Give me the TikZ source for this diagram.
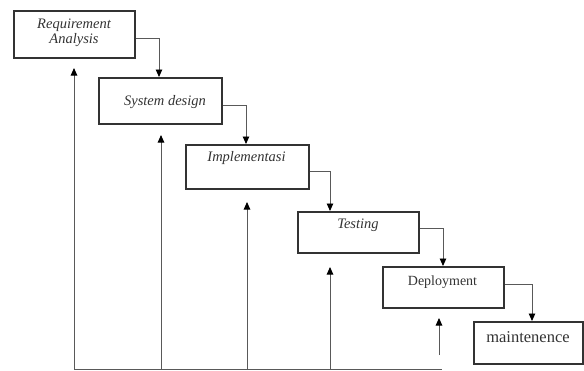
\documentclass[tikz,border=0pt]{standalone}
\usepackage{fontspec}
\setmainfont{Liberation Serif}
\usetikzlibrary{arrows.meta}
\begin{document}
\begin{tikzpicture}[x=1pt,y=-1pt,
  box/.style={draw=black!80,line width=1.6pt,inner sep=0pt,anchor=north west},
  lbl/.style={text=black!80,inner sep=0pt,align=center},
  itl/.style={lbl,font=\fontsize{14.5}{15.5}\selectfont\itshape},
  conn/.style={draw=black!65,line width=0.9pt,-{Triangle[length=7.5pt,width=6.5pt,color=black]}},
  plain/.style={draw=black!65,line width=0.9pt}]
\useasboundingbox (0,0) rectangle (584,370);
% boxes
\node[box,minimum width=121pt,minimum height=47pt] (b1) at (13,10) {};
\node[box,minimum width=123pt,minimum height=46pt] (b2) at (98,77) {};
\node[box,minimum width=123pt,minimum height=44pt] (b3) at (185,144) {};
\node[box,minimum width=121pt,minimum height=41pt] (b4) at (297,211) {};
\node[box,minimum width=121pt,minimum height=41pt] (b5) at (382,266) {};
\node[box,minimum width=109pt,minimum height=42pt] (b6) at (473,321) {};
% labels
\node[itl] (t1) at (74,33) {Requirement\\[-1pt]Analysis};
\node[itl] (t2) at (165,102) {System design};
\node[itl] (t3) at (246.5,158) {Implementasi};
\node[itl] (t4) at (358,225) {Testing};
\node[lbl,font=\fontsize{14}{15}\selectfont] (t5) at (442.5,282) {Deployment};
\node[lbl,font=\fontsize{16.5}{18}\selectfont] (t6) at (528,337) {maintenence};
% flow connectors
\draw[conn] ([yshift=-4.5pt]b1.east) -| (b2.north -| 159,0);
\draw[conn] ([yshift=-5pt]b2.east) -| (b3.north -| 246,0);
\draw[conn] ([yshift=-5pt]b3.east) -| (b4.north -| 330,0);
\draw[conn] ([yshift=3.5pt]b4.east) -| (b5.north -| 443,0);
\draw[conn] ([yshift=2.5pt]b5.east) -| (b6.north -| 532,0);
% feedback
\coordinate (base1) at (74,369);
\coordinate (base2) at (442,369);
\coordinate (f2) at (161,369);
\coordinate (f3) at (247,369);
\coordinate (f4) at (330,369);
\coordinate (f5) at (439,355);
\coordinate (h1) at (74,68);
\coordinate (h2) at (161,135);
\coordinate (h3) at (247,202);
\coordinate (h4) at (330,267);
\coordinate (h5) at (439,318);
\draw[plain] (base1) -- (base2);
\draw[conn] (base1) -- (h1);
\draw[conn] (f2) -- (h2);
\draw[conn] (f3) -- (h3);
\draw[conn] (f4) -- (h4);
\draw[conn] (f5) -- (h5);
\end{tikzpicture}
\end{document}
